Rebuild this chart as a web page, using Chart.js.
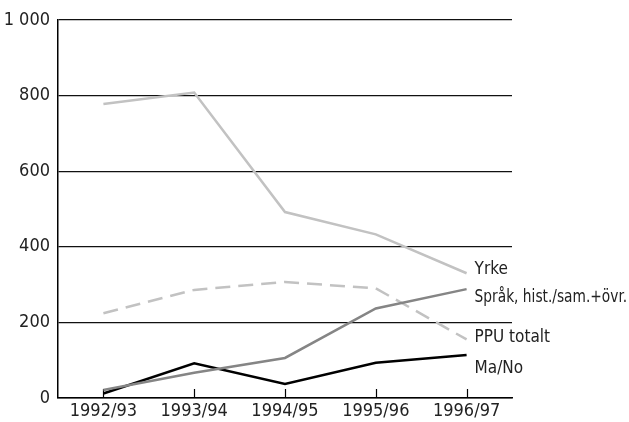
<!DOCTYPE html>
<html>
<head>
<meta charset="utf-8">
<script src="https://cdn.jsdelivr.net/npm/chart.js@4"></script>
<style>
  html, body { margin: 0; padding: 0; background: #fff; }
  #wrap { width: 629px; height: 422px; }
</style>
</head>
<body>
<div id="wrap"><canvas id="myChart" width="629" height="422"></canvas></div>
<script>
const years = ['1992/93', '1993/94', '1994/95', '1995/96', '1996/97'];

const yrke = [778, 808, 492, 433, 330];
const sprak = [21, 67, 106, 237, 288];
const ppu = [224, 286, 307, 290, 155];
const maNo = [12, 92, 37, 93, 114];

const seriesNames = ['Yrke', 'Språk, hist./sam.+övr.', 'PPU totalt', 'Ma/No'];
// where the end labels sit, in data units
const labelAt = [341, 265, 161, 79];

const yTickLabels = { 0: '0', 200: '200', 400: '400', 600: '600', 800: '800', 1000: '1 000' };

const FONT = "'DejaVu Sans', sans-serif";

const ctx = document.getElementById('myChart').getContext('2d');

// short ticks pointing up into the plot
const innerTicks = {
  id: 'innerTicks',
  beforeDatasetsDraw(chart) {
    const x = chart.scales.x, bottom = chart.chartArea.bottom;
    const c = chart.ctx;
    c.save();
    c.strokeStyle = '#000';
    c.lineWidth = 1.2;
    years.forEach((_, i) => {
      const px = Math.round(x.getPixelForValue(i)) + 0.5;
      c.beginPath();
      c.moveTo(px, bottom);
      c.lineTo(px, bottom - 9);
      c.stroke();
    });
    c.restore();
  }
};

const endLabels = {
  id: 'endLabels',
  afterDatasetsDraw(chart) {
    const c = chart.ctx, y = chart.scales.y;
    c.save();
    c.font = 'condensed 17px ' + FONT;
    c.fillStyle = '#222';
    c.textBaseline = 'middle';
    chart.data.datasets.forEach((ds, i) => {
      const pts = chart.getDatasetMeta(i).data;
      const last = pts[pts.length - 1];
      const tx = last.x + 8;
      // squeeze the long label so it stays inside the canvas
      c.fillText(seriesNames[i], tx, y.getPixelForValue(labelAt[i]), chart.width - tx - 2);
    });
    c.restore();
  }
};

const data = {
  labels: years,
  datasets: [
    { data: yrke, borderColor: '#c2c2c2', borderWidth: 2.5 },
    { data: sprak, borderColor: '#858585', borderWidth: 2.5 },
    { data: ppu, borderColor: '#c2c2c2', borderWidth: 2.5, borderDash: [15, 8] },
    { data: maNo, borderColor: '#000', borderWidth: 2.5 }
  ]
};
data.datasets.forEach(ds => { ds.pointRadius = 0; ds.fill = false; ds.tension = 0; });

const config = {
  type: 'line',
  data: data,
  options: {
    responsive: false,
    animation: false,
    layout: { padding: { top: 20, right: 117, bottom: 0, left: 0 } },
    plugins: { legend: { display: false }, tooltip: { enabled: false } },
    scales: {
      x: {
        offset: true,
        grid: { display: false, drawTicks: false },
        border: { display: true, color: '#000', width: 1.5 },
        // weight slot carries the condensed keyword into the canvas font string
        ticks: { color: '#222', font: { family: FONT, size: 18, weight: 'condensed' }, padding: 3, maxRotation: 0 },
        afterFit(s) { s.height = 24; }
      },
      y: {
        min: 0,
        max: 1000,
        grid: { color: '#111', lineWidth: 1.3, drawTicks: false },
        border: { display: true, color: '#000', width: 1.5 },
        ticks: {
          stepSize: 200,
          color: '#222',
          padding: 8,
          font: { family: FONT, size: 18, weight: 'condensed' },
          callback: v => yTickLabels[v]
        },
        afterFit(s) { s.width = 58; }
      }
    }
  },
  plugins: [innerTicks, endLabels]
};

new Chart(ctx, config);
</script>
</body>
</html>
